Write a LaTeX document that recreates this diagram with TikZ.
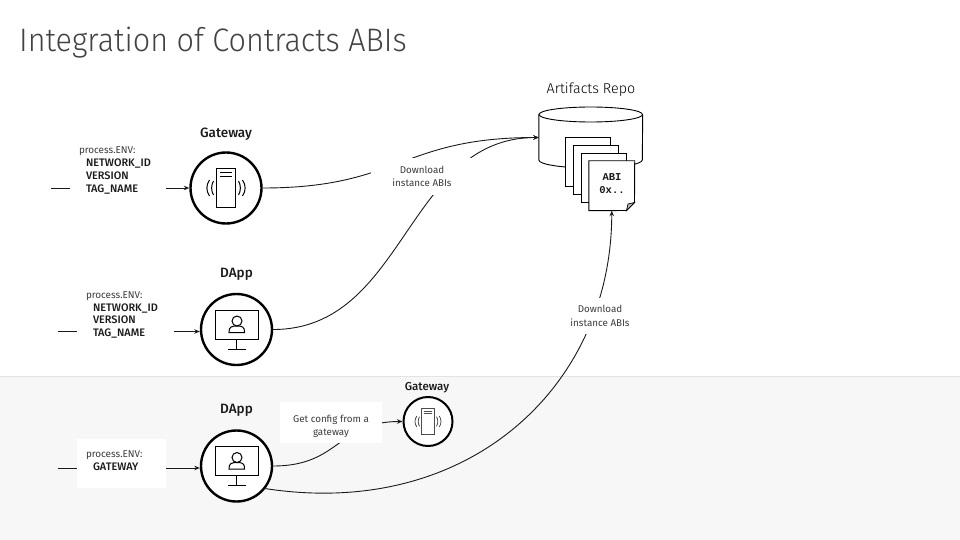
\documentclass[tikz,border=0pt]{standalone}
\usepackage{fontspec}
\setmainfont{Fira Sans}[BoldFont=* Medium]
\newfontfamily\lightfont{Fira Sans Light}
\newfontfamily\monofont{Liberation Mono}
\newfontfamily\titlefont{Fira Sans Light}[FakeStretch=0.94]
\usetikzlibrary{arrows.meta,backgrounds}
\definecolor{band}{HTML}{F7F7F7}
\definecolor{bandline}{HTML}{E3E3E3}
\definecolor{ink}{HTML}{1A1A1A}
\definecolor{titleink}{HTML}{434343}
\tikzset{
  x=1pt,y=-1pt,
  conn/.style={draw=ink,line width=.9pt},
  arrowed/.style={conn,-{Stealth[length=5.5pt,width=4.5pt]}},
  ringbig/.style={circle,draw=black,line width=2.4pt,fill=white,minimum size=71pt,inner sep=0pt},
  ringsmall/.style={circle,draw=black,line width=2pt,fill=white,minimum size=49pt,inner sep=0pt},
  heading/.style={font=\fontsize{13.5}{16}\selectfont\bfseries,text=ink,inner sep=0pt},
  caption/.style={font=\fontsize{9.8}{13.5}\selectfont,text=ink!85,align=center,fill=white,inner sep=0pt},
  envbox/.style={font=\fontsize{9.9}{12.7}\selectfont,text=ink!85,align=left,fill=white,inner xsep=9pt,inner ysep=0pt},
  sheet/.style={draw=black,line width=.9pt,fill=white,minimum width=45.5pt,minimum height=49.5pt,inner sep=0pt},
  iconline/.style={line width=1pt},
  pics/servericon/.style={code={
    \draw[iconline] (-9.5,-19.5) rectangle (9.5,19.5);
    \draw[iconline] (-6,-15.5) -- (6,-15.5) (-6,-11.5) -- (6,-11.5);
    \draw[iconline] (-12.5,-7) .. controls (-15,-3) and (-15,3) .. (-12.5,7);
    \draw[iconline] (-16.5,-8) .. controls (-20,-3) and (-20,3) .. (-16.5,8);
    \draw[iconline] (12.5,-7) .. controls (15,-3) and (15,3) .. (12.5,7);
    \draw[iconline] (16.5,-8) .. controls (20,-3) and (20,3) .. (16.5,8);
  }},
  pics/monitoricon/.style={code={
    \draw[line width=1pt] (-21.5,-19.5) rectangle (21.5,9.5);
    \draw[line width=1pt] (0,9.5) -- (0,19.5) (-9,19.5) -- (9,19.5);
    \draw[line width=1pt] (0.5,-8.5) circle (5);
    \draw[line width=1pt] (-7.5,3) .. controls (-8,-3) and (-4,-3.5) .. (0.5,-3.5)
       .. controls (5,-3.5) and (8.5,-3) .. (8,3) -- cycle;
  }}
}
\newcommand{\envkey}[1]{\hspace*{7pt}{\fontsize{10.9}{12.7}\selectfont\color{ink}\textbf{#1}}}
\begin{document}
\begin{tikzpicture}
\useasboundingbox (0,0) rectangle (960,540);

% nodes
\node[anchor=west,font=\titlefont\fontsize{32.5}{38}\selectfont,text=titleink,inner sep=0pt] (title) at (19,42.5) {Integration of Contracts ABIs};

\node[ringbig] (gw) at (226,188) {};
\node[ringbig] (dappA) at (236.5,329.5) {};
\node[ringbig] (dappB) at (236.5,466) {};
\node[ringsmall] (gwsmall) at (428,421.5) {};
\pic at (gw) {servericon};
\pic at (dappA) {monitoricon};
\pic at (dappB) {monitoricon};
\begin{scope}[color=black!70,iconline/.style={line width=.8pt}]
  \pic[scale=.68,transform shape] at (gwsmall) {servericon};
\end{scope}

\node[heading] (gwtitle) at (226,134) {Gateway};
\node[heading] (dappAtitle) at (236.5,274) {DApp};
\node[heading] (dappBtitle) at (236.5,410) {DApp};
\node[heading,font=\fontsize{11.5}{14}\selectfont\bfseries] (gwsmalltitle) at (427,388) {Gateway};
\node[font=\lightfont\fontsize{14.3}{17}\selectfont,text=black,inner sep=0pt] (repotitle) at (591,90) {Artifacts Repo};

% repository
\node[minimum width=103.5pt,minimum height=61pt,inner sep=0pt] (repo) at (590.75,137.5) {};
\filldraw[draw=black,line width=.9pt,fill=white]
  (repo.west |- 0,114.5) -- (repo.west |- 0,160) arc[start angle=180,end angle=0,x radius=51.75,y radius=8]
  -- (repo.east |- 0,114.5);
\draw[line width=.9pt,fill=white] (590.75,114.5) ellipse[x radius=51.75,y radius=7.5];

\node[sheet] (docA) at (587.75,161.75) {};
\node[sheet] (docB) at (595.75,169.75) {};
\node[sheet] (docC) at (603.75,177.75) {};
\node[minimum width=45.5pt,minimum height=49.5pt,inner sep=0pt] (docD) at (611.75,185.75) {};
\filldraw[draw=black,line width=.9pt,fill=white]
  (docD.north west) -- (docD.north east) -- (634.5,202.5) -- (626.5,210.5) -- (docD.south west) -- cycle;
\filldraw[draw=black,line width=.7pt,fill=gray!55] (634.5,202.5) -- (628,204) -- (626.5,210.5) -- cycle;
\node[font=\monofont\bfseries\fontsize{10.5}{13}\selectfont,align=center,inner sep=0pt,text=ink] (abitext) at (612,184) {ABI\\0x..};

% labels
\node[caption,minimum width=102pt,minimum height=37pt] (dlA) at (422,176.5) {Download\\instance ABIs};
\node[caption,minimum width=70pt,minimum height=36pt] (dlB) at (600,316) {Download\\instance ABIs};
\node[caption,minimum width=102pt,minimum height=41pt] (cfg) at (331,422.5) {\rule{0pt}{15.5pt}Get config from a\\gateway};

\node[envbox,text width=78pt,minimum width=96pt,minimum height=52pt] (envA) at (118,170.5)
  {process.ENV:\\\envkey{NETWORK\_ID}\\\envkey{VERSION}\\\envkey{TAG\_NAME}};
\node[envbox,text width=79pt,minimum width=97pt,minimum height=52pt] (envB) at (125.5,315)
  {process.ENV:\\\envkey{NETWORK\_ID}\\\envkey{VERSION}\\\envkey{TAG\_NAME}};
\node[envbox,text width=71pt,minimum width=89pt,minimum height=49pt] (envC) at (121.5,463.5)
  {process.ENV:\\\envkey{GATEWAY}\rule[-6.5pt]{0pt}{0pt}};

\coordinate (inA) at (51,188);
\coordinate (inB) at (58,331.5);
\coordinate (inC) at (58,468);

\begin{scope}[on background layer]
  \fill[band] (0,376) rectangle (960,540);
  \draw[bandline,line width=.8pt] (0,376) -- (960,376);
  \draw[arrowed] (inA) -- (inA -| gw.west);
  \draw[arrowed] (inB) -- (inB -| dappA.west);
  \draw[arrowed] (inC) -- (inC -| dappB.west);
  \draw[arrowed] (gw.east) .. controls (400,188) and (400,137.5) .. (repo.west);
  \draw[arrowed] (dappA.east) .. controls (406,329.5) and (406,137.5) .. (repo.west);
  \draw[arrowed] (dappB.east) .. controls (340,466) and (338,421.5) .. (gwsmall.west);
  \draw[arrowed] (dappB.-38) .. controls (470,520) and (611.75,385) .. (docD.south);
\end{scope}
\end{tikzpicture}
\end{document}
